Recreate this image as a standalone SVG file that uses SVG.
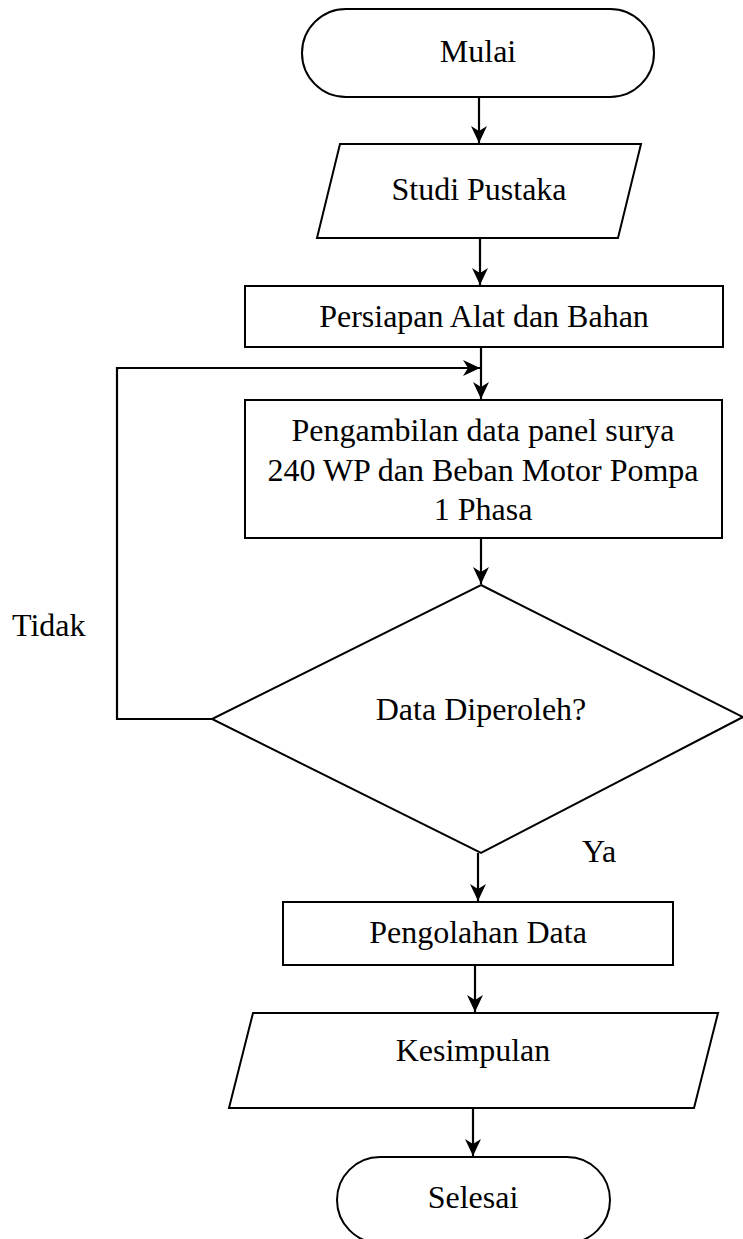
<svg xmlns="http://www.w3.org/2000/svg" width="743" height="1239" viewBox="0 0 743 1239">
  <style>
    .shape { fill: #ffffff; stroke: #000000; stroke-width: 2; }
    .label { font-family: "Liberation Serif", "Times New Roman", serif; font-size: 32px; fill: #000000; text-anchor: middle; }
    .side { font-family: "Liberation Serif", "Times New Roman", serif; font-size: 32px; fill: #000000; }
    .link { fill: none; stroke: #000000; stroke-width: 2.2; }
  </style>
  <defs>
    <marker id="arrow" markerUnits="userSpaceOnUse" markerWidth="20" markerHeight="20" viewBox="-18 -10 20 20" refX="0" refY="0" orient="auto">
      <path d="M0,0 L-17,-8 L-12,0 L-17,8 Z" fill="#000000"/>
    </marker>
  </defs>
  <rect width="743" height="1239" fill="#ffffff"/>

  <!-- connectors -->
  <g id="connectors">
    <line class="link" x1="479" y1="97" x2="479" y2="143" marker-end="url(#arrow)"/>
    <line class="link" x1="480" y1="238" x2="480" y2="285" marker-end="url(#arrow)"/>
    <line class="link" x1="481" y1="347" x2="481" y2="399" marker-end="url(#arrow)"/>
    <line class="link" x1="481" y1="538" x2="481" y2="584" marker-end="url(#arrow)"/>
    <polyline class="link" points="212,719 117,719 117,368 480,368" marker-end="url(#arrow)"/>
    <line class="link" x1="478" y1="853" x2="478" y2="901" marker-end="url(#arrow)"/>
    <line class="link" x1="475" y1="965" x2="475" y2="1012" marker-end="url(#arrow)"/>
    <line class="link" x1="473" y1="1108" x2="473" y2="1156" marker-end="url(#arrow)"/>
  </g>

  <!-- start -->
  <g id="mulai">
    <rect class="shape" x="302" y="9" width="352" height="88" rx="44" ry="44"/>
    <text class="label" x="478" y="62">Mulai</text>
  </g>

  <g id="studi-pustaka">
    <polygon class="shape" points="340,144 641,144 618,238 317,238"/>
    <text class="label" x="479" y="200">Studi Pustaka</text>
  </g>

  <g id="persiapan">
    <rect class="shape" x="245" y="286" width="478" height="61"/>
    <text class="label" x="484" y="327">Persiapan Alat dan Bahan</text>
  </g>

  <g id="pengambilan-data">
    <rect class="shape" x="245" y="400" width="477" height="138"/>
    <text class="label" x="483" y="441">Pengambilan data panel surya</text>
    <text class="label" x="483" y="481">240 WP dan Beban Motor Pompa</text>
    <text class="label" x="483" y="520">1 Phasa</text>
  </g>

  <g id="keputusan">
    <polygon class="shape" stroke-width="1.6" points="481,585 743,717 481,853 212,719"/>
    <text class="label" x="481" y="720">Data Diperoleh?</text>
  </g>

  <g id="label-tidak">
    <text class="side" x="12" y="636">Tidak</text>
  </g>

  <g id="label-ya">
    <text class="side" x="582" y="862">Ya</text>
  </g>

  <g id="pengolahan-data">
    <rect class="shape" x="283" y="902" width="390" height="63"/>
    <text class="label" x="478" y="943">Pengolahan Data</text>
  </g>

  <g id="kesimpulan">
    <polygon class="shape" points="253,1013 718,1013 694,1108 229,1108"/>
    <text class="label" x="473" y="1061">Kesimpulan</text>
  </g>

  <!-- end -->
  <g id="selesai">
    <rect class="shape" x="337" y="1157" width="273" height="86" rx="43" ry="43"/>
    <text class="label" x="473" y="1208">Selesai</text>
  </g>
</svg>
